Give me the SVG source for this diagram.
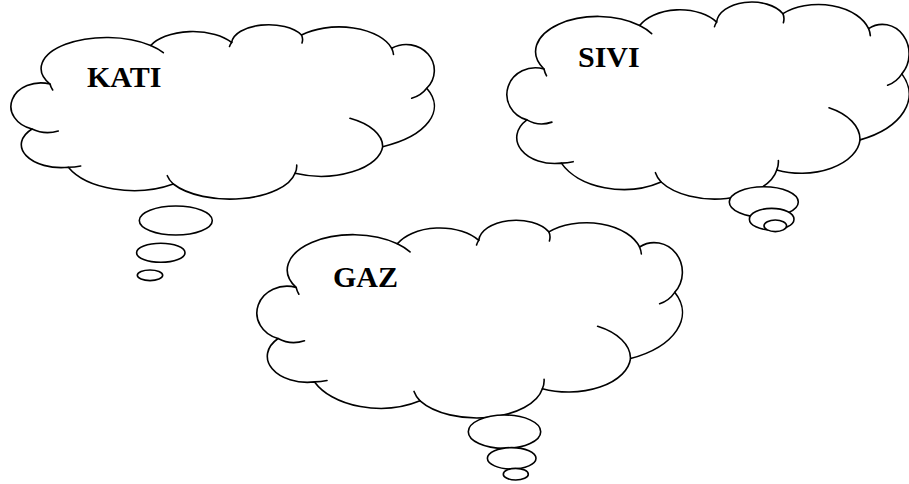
<svg xmlns="http://www.w3.org/2000/svg" xmlns:xlink="http://www.w3.org/1999/xlink" width="909" height="484" viewBox="0 0 909 484">
<style>
.outline{fill:#fff;stroke:#000;stroke-width:1.6;vector-effect:non-scaling-stroke;stroke-linejoin:round}
.curl{fill:none;stroke:#000;stroke-width:1.6;vector-effect:non-scaling-stroke;stroke-linecap:round}
.bubble{fill:#fff;stroke:#000;stroke-width:1.6}
.label{font-family:"Liberation Serif","Times New Roman",serif;font-weight:bold;font-size:30px;fill:#000}
</style>
<defs>
<path id="cloudShape" class="outline" d="M50,84 A30,23.5 0 0 0 32,129 A40,23 0 0 0 68.3,167.3 A72,40 0 0 0 173.3,184 A66,31 0 0 0 295,173.3 A62,32 0 0 0 382.7,146.7 A92,45 0 0 0 426.7,88.3 A28,26 0 0 0 391.7,48.3 A55,30 0 0 0 301.5,35 A37,19 0 0 0 231.7,42.5 A47,25 0 0 0 150.7,45.5 A65.5,31 0 0 0 50,84 Z"/>
<path id="cloudCurls" class="curl" d="M50,84 A65.5,31 0 0 0 52.7,90 M32,129 A30,23.5 0 0 0 58.3,131 M68.3,167.3 A40,23 0 0 0 80.7,166 M173.3,184 A66,31 0 0 1 167.3,175.7 M295,173.3 A66,31 0 0 0 296.7,165 M382.7,146.7 A62,32 0 0 0 350,118.3 M426.7,88.3 A28,26 0 0 1 411.7,98.3 M391.7,48.3 A55,30 0 0 1 393.5,54.5 M301.5,35 A37,19 0 0 1 302,43 M231.7,42.5 A37,19 0 0 0 229.5,46.5 M150.7,45.5 A65.5,31 0 0 1 163.3,52.7"/>
</defs>
<g id="kati">
<use xlink:href="#cloudShape"/>
<use xlink:href="#cloudCurls"/>
<ellipse class="bubble" cx="175.8" cy="220.5" rx="36.5" ry="14.5"/>
<ellipse class="bubble" cx="160.8" cy="252.8" rx="24.2" ry="9.5"/>
<ellipse class="bubble" cx="150" cy="275.3" rx="12.7" ry="5.3"/>
<text class="label" x="87" y="87">KATI</text>
</g>
<g id="sivi">
<g transform="matrix(0.95 0 0 1.13 496.5 -25.9)">
<use xlink:href="#cloudShape"/>
<use xlink:href="#cloudCurls"/>
</g>
<ellipse class="bubble" cx="763.8" cy="202" rx="34.5" ry="15.3"/>
<ellipse class="bubble" cx="771.7" cy="219.2" rx="22.3" ry="10.8"/>
<ellipse class="bubble" cx="775.3" cy="225.8" rx="11.3" ry="5.8"/>
<text class="label" x="578" y="67">SIVI</text>
</g>
<g id="gaz">
<g transform="matrix(1.005 0 0 1.134 245.9 192.2)">
<use xlink:href="#cloudShape"/>
<use xlink:href="#cloudCurls"/>
</g>
<ellipse class="bubble" cx="504.5" cy="431.7" rx="36.2" ry="16.7"/>
<ellipse class="bubble" cx="511.7" cy="458.3" rx="24.3" ry="10.7"/>
<ellipse class="bubble" cx="515.8" cy="474.2" rx="12.5" ry="5.8"/>
<text class="label" x="333" y="287">GAZ</text>
</g>
<g id="connectors"/>
</svg>
